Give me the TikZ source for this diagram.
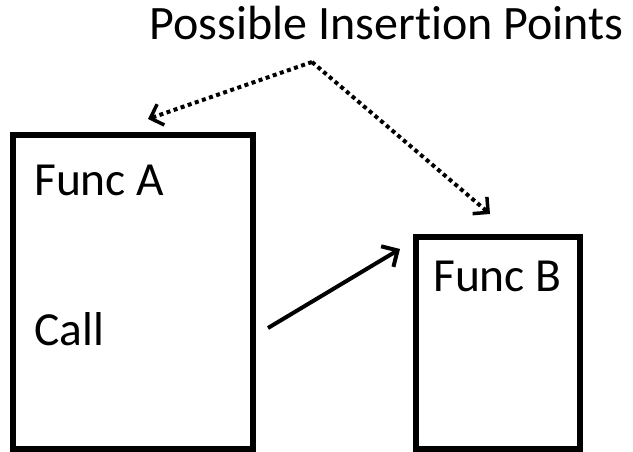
\documentclass[tikz,border=0pt]{standalone}
\usepackage{fontspec}
\setmainfont{Carlito}[Ligatures=NoCommon]
\usetikzlibrary{arrows.meta}
\begin{document}
\begin{tikzpicture}[x=1pt,y=-1pt,
  box/.style={draw,line width=6pt},
  lbl/.style={anchor=base west,inner sep=0pt,font=\fontsize{47.5}{55}\selectfont},
  dotarrow/.style={line width=4pt,dash pattern=on 4pt off 3.5pt,-{Straight Barb[length=11pt,width=22pt,line width=3.5pt]}},
  solidarrow/.style={line width=4pt,-{Straight Barb[length=12pt,width=24pt,line width=4pt]}}]
\useasboundingbox (0,0) rectangle (633,452);
\draw[box] (13,135.3) rectangle (252.5,449);
\draw[box] (416,237) rectangle (580,449);
\node[lbl] (funca) at (34,195) {Func A};
\node[lbl] (call) at (34,345.5) {Call};
\node[lbl] (funcb) at (433,291) {Func B};
\node[anchor=base,inner sep=0pt,font=\fontsize{48}{55}\selectfont] (title) at (386.5,40) {Possible Insertion Points};
\coordinate (peak) at (312,62);
\coordinate (tipa) at (148,119);
\coordinate (tipb) at (490,214);
\coordinate (cstart) at (268,328);
\coordinate (ctip) at (400,249);
\draw[dotarrow] (peak) -- (tipa);
\draw[dotarrow] (peak) -- (tipb);
\draw[solidarrow] (cstart) -- (ctip);
\end{tikzpicture}
\end{document}
